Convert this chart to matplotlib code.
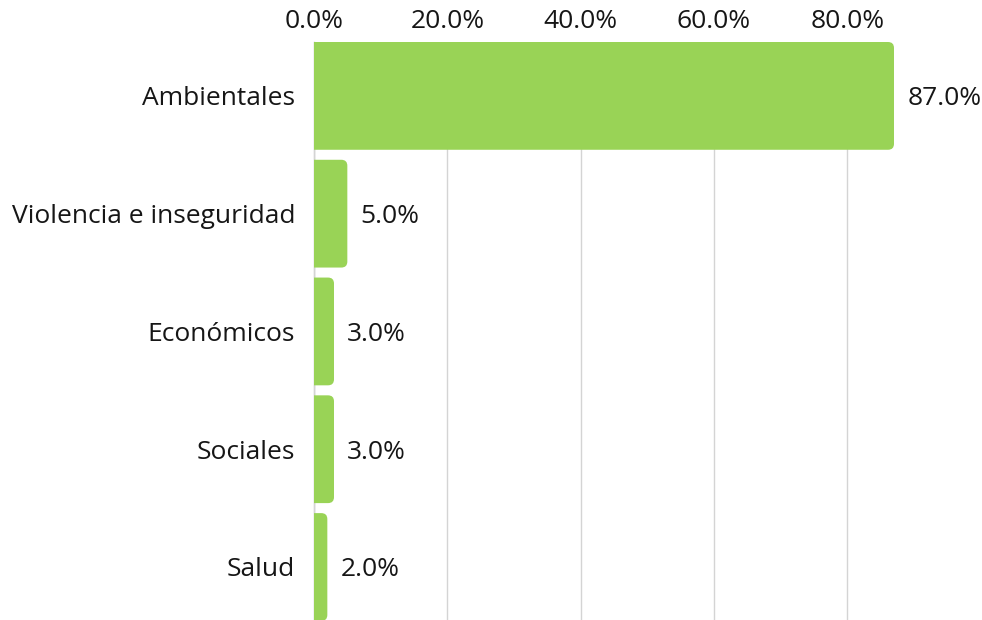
import matplotlib
matplotlib.use("Agg")
import matplotlib.pyplot as plt
from matplotlib.patches import FancyBboxPatch

categories = ["Ambientales", "Violencia e inseguridad", "Económicos", "Sociales", "Salud"]
values = [87.0, 5.0, 3.0, 3.0, 2.0]
xticks = [0, 20, 40, 60, 80]

plt.rcParams['font.family'] = ['Open Sans', 'DejaVu Sans']

W, H = 982, 620
fig = plt.figure(figsize=(W / 100, H / 100), dpi=100)
left, top = 314, 42
right = 914
ax = fig.add_axes([left / W, 0, (right - left) / W, (H - top) / H])

bar_h = 0.915
color = "#99d356"
txt = "#161616"
fs = 19
ax.set_xlim(0, 90)
ax.set_ylim(4.45, -bar_h / 2)

rx = 0.9
aspect = (6 / 118) / rx
for i, v in enumerate(values):
    p = FancyBboxPatch((-3, i - bar_h / 2), v + 3, bar_h,
                       boxstyle=f"round,pad=0,rounding_size={rx}",
                       mutation_aspect=aspect, facecolor=color,
                       edgecolor="none", zorder=3, clip_on=True)
    ax.add_patch(p)
    ax.annotate(f"{v:.1f}%", xy=(v, i), xytext=(9.5, 0), textcoords="offset points",
                ha="left", va="center_baseline", fontsize=fs, color=txt, zorder=4)

ax.set_yticks(range(len(categories)))
ax.set_yticklabels(categories, fontsize=fs, color=txt)
ax.set_xticks(xticks)
ax.set_xticklabels([f"{t:.1f}%" for t in xticks], fontsize=fs, color=txt)
ax.xaxis.tick_top()
ax.tick_params(axis="x", length=0, pad=6)
ax.tick_params(axis="y", length=0, pad=13.5)
ax.grid(axis="x", color="#d4d4d4", linewidth=1, zorder=0)
for s in ["top", "right", "bottom"]:
    ax.spines[s].set_visible(False)
ax.spines["left"].set_color("#bbbbbb")
ax.spines["left"].set_linewidth(1)
ax.spines["left"].set_zorder(1)

fig.savefig("out.png", dpi=100)
